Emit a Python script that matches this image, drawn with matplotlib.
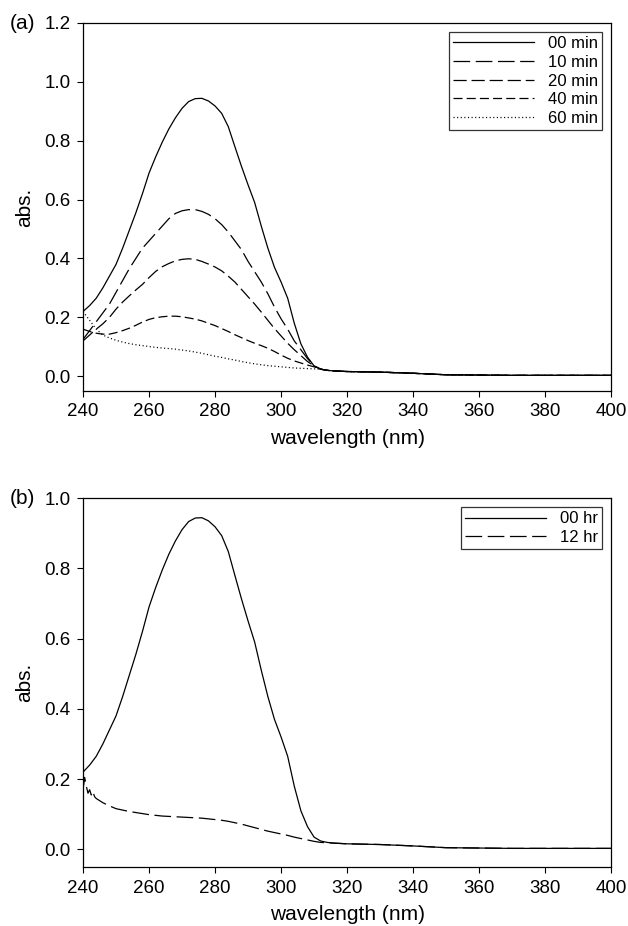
import numpy as np
import matplotlib as mpl
mpl.use('Agg')
import matplotlib.pyplot as plt

plt.rcParams['font.family'] = ['Liberation Sans', 'DejaVu Sans']
plt.rcParams['lines.scale_dashes'] = False

# wavelength grid (nm) shared by all curves of panel (a)
wl = [240, 242, 244, 246, 248, 250, 252, 254, 256, 258, 260, 262, 264, 266, 268,
      270, 272, 274, 276, 278, 280, 282, 284, 286, 288, 290, 292, 294, 296, 298,
      300, 302, 304, 306, 308, 310, 312, 314, 316, 318, 320, 330, 340, 350, 360,
      370, 380, 390, 400]

tail = [0.024, 0.02, 0.018, 0.017, 0.016, 0.014, 0.010, 0.005, 0.004, 0.003, 0.003, 0.003, 0.003]

abs_00 = [0.22, 0.24, 0.265, 0.30, 0.34, 0.38, 0.435, 0.495, 0.555, 0.62, 0.69, 0.745, 0.795, 0.84, 0.878,
          0.91, 0.933, 0.943, 0.944, 0.935, 0.918, 0.893, 0.848, 0.78, 0.713, 0.65, 0.59, 0.51, 0.435, 0.37,
          0.32, 0.265, 0.18, 0.11, 0.065, 0.035] + tail
abs_10 = [0.125, 0.155, 0.185, 0.215, 0.245, 0.285, 0.325, 0.365, 0.40, 0.435, 0.46, 0.485, 0.51, 0.535, 0.553,
          0.562, 0.566, 0.566, 0.56, 0.55, 0.535, 0.515, 0.49, 0.46, 0.43, 0.39, 0.355, 0.32, 0.28, 0.235,
          0.195, 0.16, 0.12, 0.09, 0.06, 0.035] + tail
abs_20 = [0.12, 0.14, 0.16, 0.178, 0.20, 0.228, 0.252, 0.273, 0.293, 0.312, 0.335, 0.356, 0.372, 0.383, 0.392,
          0.397, 0.399, 0.397, 0.39, 0.381, 0.371, 0.358, 0.34, 0.32, 0.295, 0.27, 0.245, 0.218, 0.19, 0.162,
          0.137, 0.112, 0.09, 0.07, 0.05, 0.035] + tail
abs_40 = [0.16, 0.152, 0.146, 0.143, 0.143, 0.148, 0.155, 0.163, 0.173, 0.184, 0.193, 0.199, 0.202, 0.204, 0.204,
          0.202, 0.198, 0.194, 0.188, 0.18, 0.172, 0.162, 0.152, 0.141, 0.131, 0.121, 0.112, 0.104, 0.095, 0.084,
          0.072, 0.061, 0.052, 0.045, 0.038, 0.032] + tail
abs_60 = [0.22, 0.19, 0.16, 0.14, 0.13, 0.122, 0.116, 0.111, 0.107, 0.104, 0.101, 0.098, 0.096, 0.094, 0.092,
          0.089, 0.086, 0.082, 0.078, 0.073, 0.068, 0.064, 0.059, 0.055, 0.05, 0.046, 0.042, 0.039, 0.036, 0.034,
          0.032, 0.03, 0.028, 0.027, 0.026, 0.025] + tail
labels_a = ['00 min', '10 min', '20 min', '40 min', '60 min']

# panel (b): 12 hr has a noisy start near 240 nm
wl_12 = [240, 240.5, 241, 241.5, 242, 242.5, 243, 243.5, 244, 246, 248, 250, 252, 254, 256, 258, 260,
         262, 264, 266, 268, 270, 272, 274, 276, 278, 280, 282, 284, 286, 288, 290, 292, 294, 296,
         298, 300, 302, 304, 306, 308, 310, 312, 314, 316, 318, 320, 330, 340, 350, 360, 370, 380,
         390, 400]
abs_12 = [0.17, 0.205, 0.18, 0.16, 0.17, 0.155, 0.165, 0.15, 0.145, 0.133, 0.124, 0.116, 0.112, 0.108,
          0.105, 0.102, 0.099, 0.097, 0.095, 0.094, 0.093, 0.092, 0.091, 0.09, 0.089, 0.087, 0.085, 0.083,
          0.08, 0.076, 0.072, 0.067, 0.062, 0.057, 0.052, 0.048, 0.044, 0.04, 0.035, 0.031, 0.027, 0.023,
          0.02, 0.019, 0.018, 0.017, 0.016, 0.014, 0.010, 0.005, 0.004, 0.003, 0.003, 0.003, 0.003]
labels_b = ['00 hr', '12 hr']

dash_10 = (0, (12, 4))
dash_20 = (0, (9.5, 3.5))
dash_40 = (0, (6.5, 3))
dot_60 = (0, (0.8, 1.8))


def style_axes(ax, ymax, yticks):
  ax.set_xlim(240, 400)
  ax.set_ylim(-0.05, ymax)
  ax.set_xticks(np.arange(240, 401, 20))
  ax.set_yticks(yticks)
  ax.set_yticklabels(['{:.1f}'.format(t) for t in yticks])
  ax.tick_params(direction='out', length=4.5, width=0.8, labelsize=13.5, top=False, right=False, pad=4.5)
  for s in ax.spines.values():
    s.set_linewidth(0.9)
  ax.set_xlabel('wavelength (nm)', fontsize=15, labelpad=6)
  ax.set_ylabel('abs.', fontsize=15, labelpad=7)


def add_legend(ax):
  leg = ax.legend(loc='upper right', fontsize=12, handlelength=4.9, labelspacing=0.22,
                  borderpad=0.25, handletextpad=0.8, borderaxespad=0.55, fancybox=False,
                  frameon=True, edgecolor='black')
  leg.get_frame().set_linewidth(0.9)
  return leg


fig = plt.figure(figsize=(6.28, 9.26), dpi=100)
ax1 = fig.add_axes([0.1322, 0.5778, 0.841, 0.3974])
ax2 = fig.add_axes([0.1322, 0.0637, 0.841, 0.3985])

lw = 0.9
ax1.plot(wl, abs_00, color='black', lw=lw, label=labels_a[0])
ax1.plot(wl, abs_10, color='black', lw=lw, ls=dash_10, label=labels_a[1])
ax1.plot(wl, abs_20, color='black', lw=lw, ls=dash_20, label=labels_a[2])
ax1.plot(wl, abs_40, color='black', lw=lw, ls=dash_40, label=labels_a[3])
ax1.plot(wl, abs_60, color='black', lw=lw, ls=dot_60, label=labels_a[4])
style_axes(ax1, 1.2, [0.0, 0.2, 0.4, 0.6, 0.8, 1.0, 1.2])
add_legend(ax1)

ax2.plot(wl, abs_00, color='black', lw=lw, label=labels_b[0])
ax2.plot(wl_12, abs_12, color='black', lw=lw, ls=dash_10, label=labels_b[1])
style_axes(ax2, 1.0, [0.0, 0.2, 0.4, 0.6, 0.8, 1.0])
add_legend(ax2)

fig.text(0.015, 0.975, '(a)', fontsize=15, va='center', ha='left')
fig.text(0.015, 0.462, '(b)', fontsize=15, va='center', ha='left')

fig.savefig('out.png', dpi=100)
